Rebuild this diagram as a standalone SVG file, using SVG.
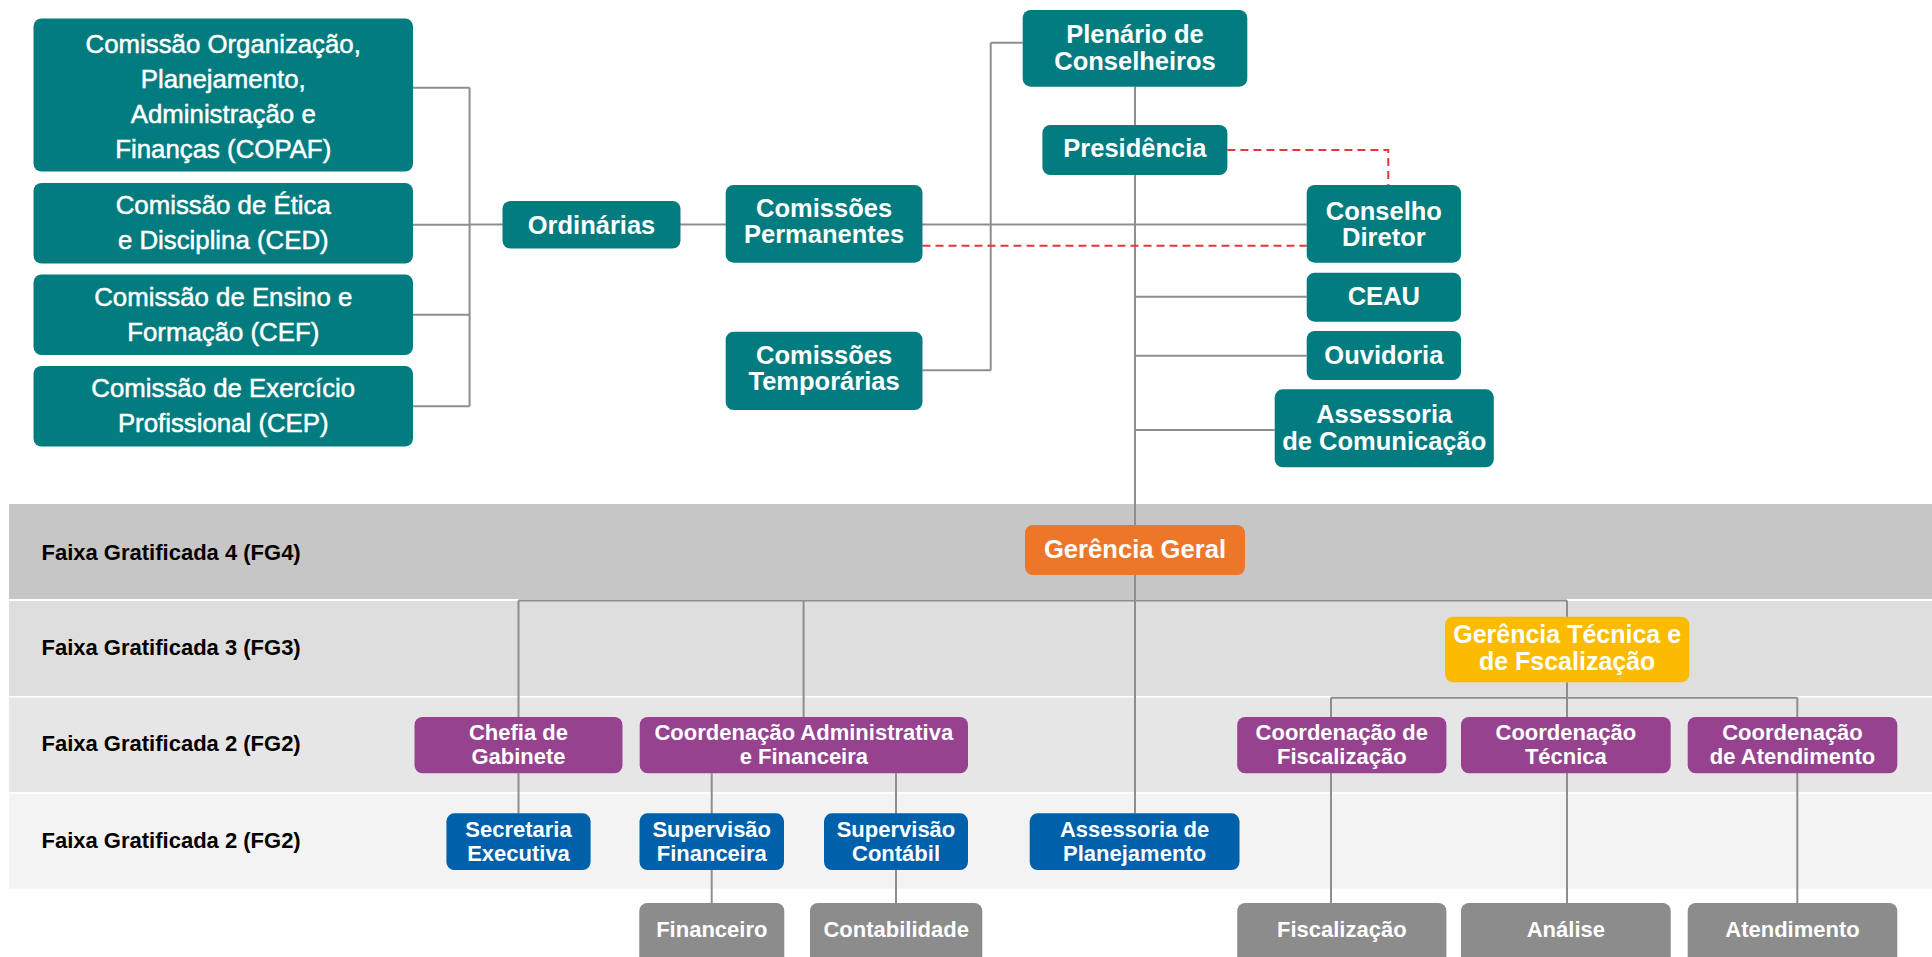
<svg xmlns="http://www.w3.org/2000/svg" width="1932" height="957" viewBox="0 0 1932 957">
<style>
  .teal{fill:#037c7f}
  .purple{fill:#96428f}
  .blue{fill:#0061aa}
  .orange{fill:#ee7628}
  .yellow{fill:#fbbb00}
  .grey{fill:#8c8c8c}
  text{font-family:"Liberation Sans",Arial,sans-serif;fill:#ffffff;text-anchor:middle}
  .reg{font-size:25.8px;font-weight:400;stroke:#ffffff;stroke-width:0.5px}
  .b1{font-size:25.5px;font-weight:700}
  .b2{font-size:22px;font-weight:700}
  .lbl{font-size:22px;font-weight:700;fill:#000000;text-anchor:start}
  .ln{fill:none;stroke:#8e8e8e;stroke-width:2}
  .dash{fill:none;stroke:#e5373a;stroke-width:2;stroke-dasharray:8 5}
</style>
<rect width="1932" height="957" fill="#ffffff"/>
<g id="bands">
  <rect x="9" y="504" width="1923" height="95" fill="#c6c6c6"/>
  <rect x="9" y="601" width="1923" height="95" fill="#dedede"/>
  <rect x="9" y="697.5" width="1923" height="94.5" fill="#e6e6e6"/>
  <rect x="9" y="794" width="1923" height="94.5" fill="#f3f3f3"/>
  <text class="lbl" x="41.5" y="560">Faixa Gratificada 4 (FG4)</text>
  <text class="lbl" x="41.5" y="655">Faixa Gratificada 3 (FG3)</text>
  <text class="lbl" x="41.5" y="751">Faixa Gratificada 2 (FG2)</text>
  <text class="lbl" x="41.5" y="848">Faixa Gratificada 2 (FG2)</text>
</g>
<g id="connectors">
  <path class="ln" d="M413,87.7 H469.6 M413,224.7 H469.6 M413,314.7 H469.6 M413,406.3 H469.6 M469.6,87.7 V406.3"/>
  <path class="ln" d="M469.6,224.5 H1306.7"/>
  <path class="ln" d="M990.7,42.7 H1022.7 M990.7,42.7 V370.3 M922.5,370.3 H990.7"/>
  <path class="ln" d="M1135,86.7 V125 M1135,175 V525 M1135,575 V813.3"/>
  <path class="ln" d="M1135,296.7 H1306.7 M1135,355.7 H1306.7 M1135,430 H1274.7"/>
  <path class="dash" d="M1227.4,150 H1388.3 V185"/>
  <path class="dash" d="M922.5,245.7 H1306.7"/>
  <path class="ln" d="M518.5,600.5 H1567 M518.5,600.5 V717 M803.6,600.5 V717 M1567,600.5 V616.7"/>
  <path class="ln" d="M518.5,773.3 V813.3 M711.7,773.3 V903 M896,773.3 V903"/>
  <path class="ln" d="M1567,682.3 V903 M1331,697.7 H1797.3 M1331,697.7 V903 M1797.3,697.7 V903"/>
</g>
<g id="copaf">
  <rect class="teal" x="33.5" y="18.5" width="379.5" height="153" rx="8"/>
  <text class="reg" x="223.25" y="52.7">Comissão Organização,</text>
  <text class="reg" x="223.25" y="87.7">Planejamento,</text>
  <text class="reg" x="223.25" y="122.7">Administração e</text>
  <text class="reg" x="223.25" y="157.5">Finanças (COPAF)</text>
</g>
<g id="ced">
  <rect class="teal" x="33.5" y="183" width="379.5" height="80.5" rx="8"/>
  <text class="reg" x="223.25" y="214">Comissão de Ética</text>
  <text class="reg" x="223.25" y="249">e Disciplina (CED)</text>
</g>
<g id="cef">
  <rect class="teal" x="33.5" y="274.5" width="379.5" height="80.5" rx="8"/>
  <text class="reg" x="223.25" y="305.5">Comissão de Ensino e</text>
  <text class="reg" x="223.25" y="340.5">Formação (CEF)</text>
</g>
<g id="cep">
  <rect class="teal" x="33.5" y="366" width="379.5" height="80.5" rx="8"/>
  <text class="reg" x="223.25" y="397">Comissão de Exercício</text>
  <text class="reg" x="223.25" y="432">Profissional (CEP)</text>
</g>
<g id="ordinarias">
  <rect class="teal" x="502.5" y="201" width="178" height="47.5" rx="8"/>
  <text class="b1" x="591.5" y="233.5">Ordinárias</text>
</g>
<g id="permanentes">
  <rect class="teal" x="725.7" y="185" width="196.8" height="77.7" rx="8"/>
  <text class="b1" x="824.1" y="217">Comissões</text>
  <text class="b1" x="824.1" y="243">Permanentes</text>
</g>
<g id="temporarias">
  <rect class="teal" x="725.7" y="331.7" width="196.8" height="78.3" rx="8"/>
  <text class="b1" x="824.1" y="364">Comissões</text>
  <text class="b1" x="824.1" y="389.5">Temporárias</text>
</g>
<g id="plenario">
  <rect class="teal" x="1022.7" y="10" width="224.6" height="76.7" rx="8"/>
  <text class="b1" x="1135" y="43.3">Plenário de</text>
  <text class="b1" x="1135" y="70">Conselheiros</text>
</g>
<g id="presidencia">
  <rect class="teal" x="1042.4" y="125" width="185" height="50" rx="8"/>
  <text class="b1" x="1134.9" y="157">Presidência</text>
</g>
<g id="conselho">
  <rect class="teal" x="1306.7" y="185" width="154.3" height="77.7" rx="8"/>
  <text class="b1" x="1383.85" y="220">Conselho</text>
  <text class="b1" x="1383.85" y="245.5">Diretor</text>
</g>
<g id="ceau">
  <rect class="teal" x="1306.7" y="272.7" width="154.3" height="49" rx="8"/>
  <text class="b1" x="1383.85" y="305">CEAU</text>
</g>
<g id="ouvidoria">
  <rect class="teal" x="1306.7" y="331" width="154.3" height="49" rx="8"/>
  <text class="b1" x="1383.85" y="364">Ouvidoria</text>
</g>
<g id="comunicacao">
  <rect class="teal" x="1274.7" y="389.3" width="219.1" height="78" rx="8"/>
  <text class="b1" x="1384.25" y="423.3">Assessoria</text>
  <text class="b1" x="1384.25" y="450">de Comunicação</text>
</g>
<g id="gerencia-geral">
  <rect class="orange" x="1025" y="525" width="220" height="50" rx="8"/>
  <text class="b1" x="1135" y="558" style="font-size:25.6px">Gerência Geral</text>
</g>
<g id="gerencia-tecnica">
  <rect class="yellow" x="1445" y="616.7" width="244.3" height="65.6" rx="8"/>
  <text class="b1" x="1567.15" y="642.5" style="font-size:25px">Gerência Técnica e</text>
  <text class="b1" x="1567.15" y="670" style="font-size:25px">de Fscalização</text>
</g>
<g id="chefia">
  <rect class="purple" x="414.5" y="717" width="208" height="56.3" rx="8"/>
  <text class="b2" x="518.5" y="739.5">Chefia de</text>
  <text class="b2" x="518.5" y="764">Gabinete</text>
</g>
<g id="coord-adm">
  <rect class="purple" x="639.7" y="717" width="328.3" height="56.3" rx="8"/>
  <text class="b2" x="803.85" y="739.5">Coordenação Administrativa</text>
  <text class="b2" x="803.85" y="764">e Financeira</text>
</g>
<g id="coord-fisc">
  <rect class="purple" x="1237.2" y="717" width="209.2" height="56.3" rx="8"/>
  <text class="b2" x="1341.8" y="739.5">Coordenação de</text>
  <text class="b2" x="1341.8" y="764">Fiscalização</text>
</g>
<g id="coord-tec">
  <rect class="purple" x="1461" y="717" width="209.7" height="56.3" rx="8"/>
  <text class="b2" x="1565.85" y="739.5">Coordenação</text>
  <text class="b2" x="1565.85" y="764">Técnica</text>
</g>
<g id="coord-atend">
  <rect class="purple" x="1687.7" y="717" width="209.6" height="56.3" rx="8"/>
  <text class="b2" x="1792.5" y="739.5">Coordenação</text>
  <text class="b2" x="1792.5" y="764">de Atendimento</text>
</g>
<g id="secretaria">
  <rect class="blue" x="446.4" y="813.3" width="144.2" height="56.7" rx="8"/>
  <text class="b2" x="518.5" y="836.7">Secretaria</text>
  <text class="b2" x="518.5" y="860.7">Executiva</text>
</g>
<g id="sup-fin">
  <rect class="blue" x="639.5" y="813.3" width="144.5" height="56.7" rx="8"/>
  <text class="b2" x="711.75" y="836.7">Supervisão</text>
  <text class="b2" x="711.75" y="860.7">Financeira</text>
</g>
<g id="sup-cont">
  <rect class="blue" x="824" y="813.3" width="144" height="56.7" rx="8"/>
  <text class="b2" x="896" y="836.7">Supervisão</text>
  <text class="b2" x="896" y="860.7">Contábil</text>
</g>
<g id="ass-plan">
  <rect class="blue" x="1029.7" y="813.3" width="209.8" height="56.7" rx="8"/>
  <text class="b2" x="1134.6" y="836.7">Assessoria de</text>
  <text class="b2" x="1134.6" y="860.7">Planejamento</text>
</g>
<g id="financeiro">
  <rect class="grey" x="639.3" y="903" width="145" height="70" rx="8"/>
  <text class="b2" x="711.8" y="937.3">Financeiro</text>
</g>
<g id="contabilidade">
  <rect class="grey" x="810" y="903" width="172.3" height="70" rx="8"/>
  <text class="b2" x="896.15" y="937.3">Contabilidade</text>
</g>
<g id="fiscalizacao">
  <rect class="grey" x="1237.2" y="903" width="209.2" height="70" rx="8"/>
  <text class="b2" x="1341.8" y="937.3">Fiscalização</text>
</g>
<g id="analise">
  <rect class="grey" x="1461" y="903" width="209.7" height="70" rx="8"/>
  <text class="b2" x="1565.85" y="937.3">Análise</text>
</g>
<g id="atendimento">
  <rect class="grey" x="1687.7" y="903" width="209.6" height="70" rx="8"/>
  <text class="b2" x="1792.5" y="937.3">Atendimento</text>
</g>
</svg>
